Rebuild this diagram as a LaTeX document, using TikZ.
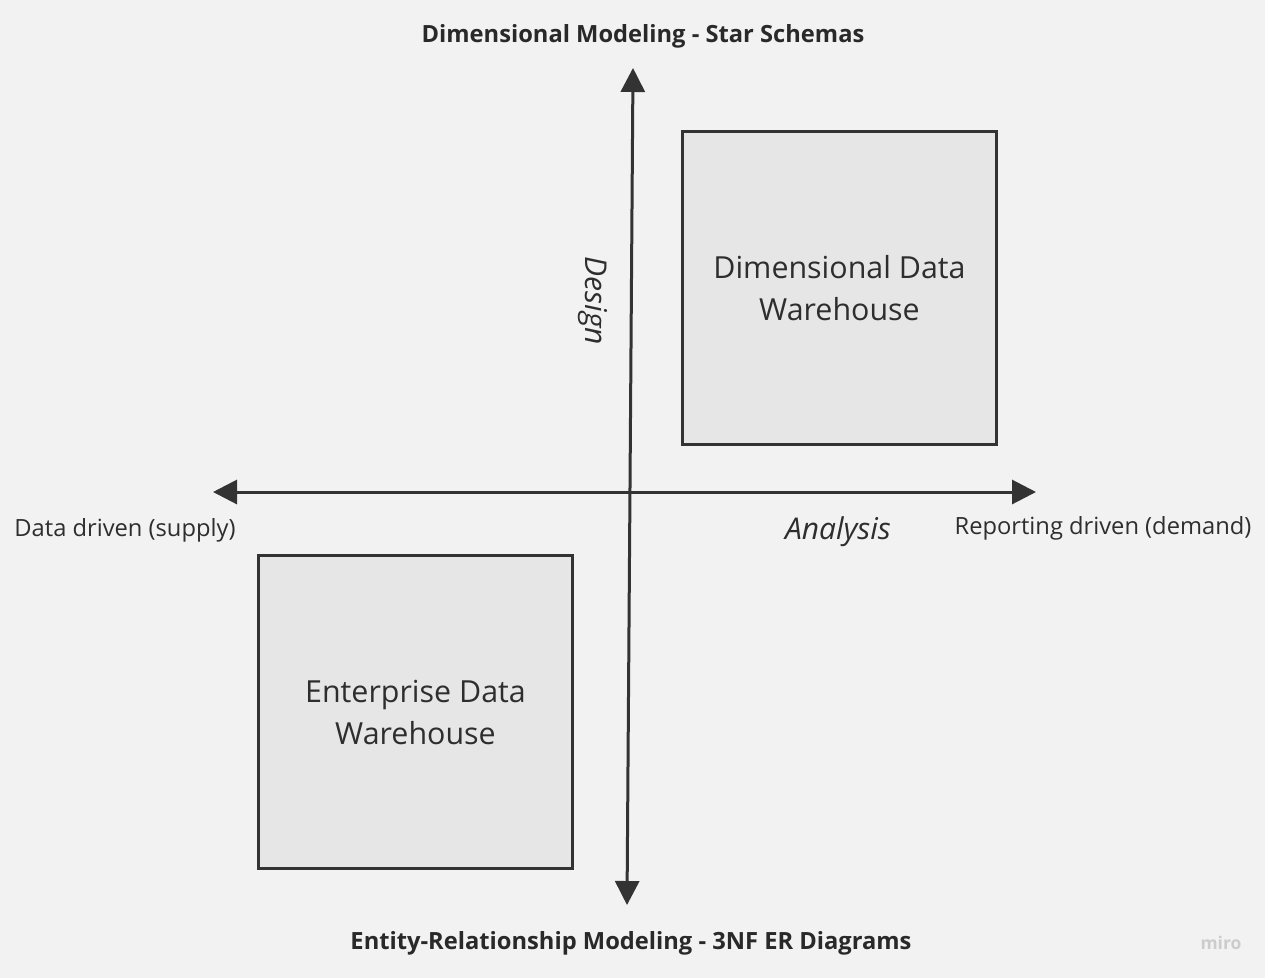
\documentclass[tikz,border=0pt]{standalone}
\usepackage{fontspec}
\setmainfont{Open Sans}
\usetikzlibrary{arrows.meta}
\definecolor{bg}{HTML}{F2F2F2}
\definecolor{boxfill}{HTML}{E6E6E6}
\definecolor{ink}{HTML}{333333}
\begin{document}
\begin{tikzpicture}[x=1pt,y=-1pt,
    quad/.style={draw=ink,line width=3pt,fill=boxfill,minimum width=314pt,minimum height=313pt,
      align=center,font=\fontsize{30.4}{42}\selectfont,text=ink!90!black,inner sep=0pt},
    axis/.style={draw=ink,line width=3pt,{Triangle[length=24pt,width=24pt]}-{Triangle[length=24pt,width=24pt]}},
    title/.style={font=\fontsize{23.7}{28}\selectfont\bfseries,text=ink!80!black},
    side/.style={font=\fontsize{23.7}{28}\selectfont,text=ink!90!black},
    dir/.style={font=\fontsize{30}{36}\selectfont\itshape,text=ink!90!black}]
  \fill[bg] (0,0) rectangle (1265,978);
  \useasboundingbox (0,0) rectangle (1265,978);
  \node[title] (top) at (643,36) {Dimensional Modeling - Star Schemas};
  \node[title] (bottom) at (631,943) {Entity-Relationship Modeling - 3NF ER Diagrams};
  \coordinate (n) at (633,68);
  \coordinate (s) at (627,905);
  \coordinate (w) at (213,492);
  \coordinate (e) at (1036,492);
  \draw[axis] (s) -- (n);
  \draw[axis] (w) -- (e);
  \node[quad] (ddw) at (839.5,288) {Dimensional Data\\Warehouse};
  \node[quad] (edw) at (415.5,712) {Enterprise Data\\Warehouse};
  \node[dir,rotate=-90] (design) at (593,301) {Design};
  \node[dir] (analysis) at (838,532) {Analysis};
  \node[side] (supply) at (125,530) {Data driven (supply)};
  \node[side] (demand) at (1103,528) {Reporting driven (demand)};
  \node[font=\fontsize{17.5}{20}\selectfont\bfseries,text=black!20] (miro) at (1221,943) {miro};
\end{tikzpicture}
\end{document}
